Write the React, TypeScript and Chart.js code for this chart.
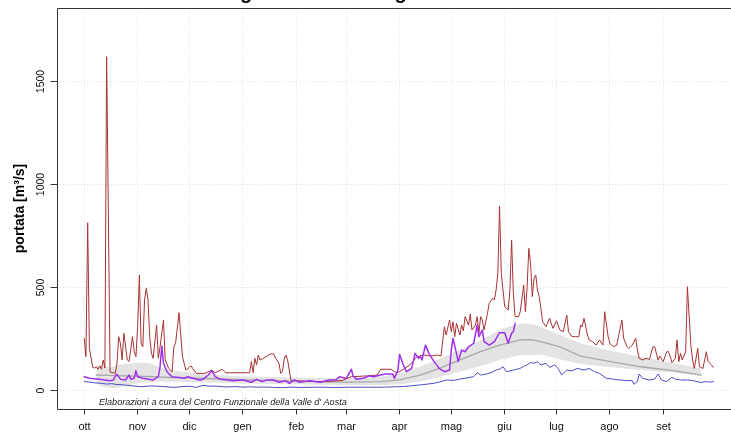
import React, { useEffect, useRef } from "react";
import { Chart, registerables } from "chart.js";

Chart.register(...registerables);

// ---- axis definitions ----
const monthLabels = ["ott", "nov", "dic", "gen", "feb", "mar", "apr", "mag", "giu", "lug", "ago", "set"];
const monthStartDays = [0, 31, 61, 92, 123, 152, 183, 213, 244, 274, 305, 336];
const yTicks = [0, 500, 1000, 1500];
const yTickLabels = ["0", "500", "1000", "1500"];

const titleText = "Andamento giornaliero \u2013 stagione 2023-2024";
const yAxisTitle = "portata [m\u00b3/s]";
const captionText = "Elaborazioni a cura del Centro Funzionale della Valle d' Aosta";

// ---- series: historical maximum (day of hydrological year, m3/s) ----
const maxDays = [0, 1, 2, 3, 4, 5, 6, 7, 8, 9, 10, 11, 12, 13, 15, 16, 18, 19, 20, 21, 22, 23, 25, 26, 28, 29, 30, 31, 32, 33, 34, 35, 36, 37, 38, 39, 40, 42, 43, 44, 46, 47, 49, 51, 52, 53, 55, 57, 59, 61, 62, 63, 65, 70, 74, 76, 80, 82, 96, 97, 98, 99, 100, 101, 102, 104, 106, 108, 110, 111, 113, 114, 115, 116, 117, 118, 120, 130, 140, 150, 155, 165, 170, 172, 178, 181, 183, 189, 193, 197, 201, 205, 207, 209, 210, 212, 213, 214, 215, 216, 218, 219, 220, 221, 223, 224, 225, 227, 228, 229, 230, 231, 232, 234, 235, 237, 238, 239, 240, 241, 242, 244, 246, 247, 248, 249, 250, 252, 253, 255, 256, 257, 258, 259, 260, 261, 262, 263, 264, 265, 266, 268, 270, 272, 274, 276, 278, 280, 281, 283, 285, 287, 288, 289, 290, 292, 293, 295, 297, 299, 301, 302, 304, 305, 307, 309, 310, 312, 313, 315, 316, 318, 320, 321, 322, 324, 326, 328, 330, 331, 333, 334, 336, 338, 339, 340, 341, 343, 344, 345, 346, 347, 349, 350, 352, 353, 354, 356, 357, 359, 361, 362, 364, 365];
const maxVals = [254, 165, 814, 205, 158, 112, 110, 115, 104, 120, 104, 149, 110, 1619, 90, 88, 84, 133, 262, 230, 149, 278, 149, 141, 262, 189, 165, 310, 560, 230, 213, 440, 496, 440, 262, 181, 157, 318, 157, 213, 343, 149, 108, 92, 213, 230, 378, 165, 100, 113, 120, 108, 84, 84, 100, 87, 104, 87, 87, 141, 87, 157, 125, 173, 149, 157, 168, 178, 178, 157, 133, 84, 92, 152, 173, 149, 50, 45, 44, 50, 68, 72, 76, 104, 104, 87, 92, 125, 165, 173, 168, 173, 168, 310, 270, 343, 286, 334, 262, 327, 270, 318, 290, 359, 318, 372, 294, 318, 359, 278, 359, 343, 294, 375, 424, 448, 440, 488, 569, 895, 569, 407, 391, 488, 730, 472, 359, 359, 383, 512, 383, 504, 690, 617, 456, 545, 561, 488, 456, 399, 334, 310, 351, 302, 339, 294, 286, 367, 286, 262, 262, 262, 318, 310, 351, 270, 246, 238, 221, 246, 221, 383, 262, 230, 213, 221, 262, 343, 254, 213, 205, 221, 254, 197, 157, 149, 157, 152, 213, 213, 149, 168, 141, 189, 189, 168, 136, 157, 246, 141, 181, 149, 189, 504, 221, 149, 108, 205, 116, 108, 189, 141, 125, 113];

// ---- series: historical minimum ----
const minDays = [0, 3, 6, 10, 13, 16, 19, 23, 26, 30, 33, 38, 42, 46, 52, 56, 61, 65, 69, 73, 77, 82, 88, 92, 96, 100, 105, 110, 115, 120, 125, 135, 145, 154, 165, 173, 181, 185, 190, 195, 199, 203, 206, 210, 214, 218, 222, 226, 228, 230, 233, 236, 239, 241, 243, 245, 247, 249, 251, 253, 255, 257, 259, 261, 263, 265, 268, 270, 273, 275, 277, 280, 283, 286, 290, 293, 296, 299, 303, 307, 311, 315, 318, 319, 321, 322, 324, 328, 331, 333, 335, 338, 341, 343, 346, 350, 353, 356, 358, 360, 363, 365];
const minVals = [44, 42, 38, 36, 32, 34, 30, 28, 25, 22, 19, 23, 22, 20, 16, 19, 22, 16, 26, 22, 22, 18, 20, 17, 19, 17, 18, 16, 15, 17, 16, 17, 16, 17, 17, 17, 19, 20, 24, 28, 32, 36, 42, 52, 50, 56, 62, 68, 87, 76, 80, 87, 100, 105, 116, 92, 96, 100, 104, 108, 118, 125, 136, 133, 141, 125, 133, 113, 125, 108, 76, 100, 96, 108, 100, 108, 92, 84, 60, 56, 52, 49, 49, 31, 44, 81, 60, 52, 56, 81, 52, 44, 65, 56, 52, 52, 49, 44, 39, 44, 42, 44];

// ---- series: median and band ----
const medDays = [7, 15, 23, 31, 40, 50, 61, 75, 92, 105, 122, 140, 152, 165, 172, 183, 195, 206, 218, 230, 241, 253, 259, 265, 276, 288, 303, 323, 342, 358];
const medVals = [76, 74, 72, 70, 68, 64, 62, 58, 53, 50, 46, 43, 42, 43, 44, 52, 76, 108, 149, 189, 221, 246, 248, 238, 213, 168, 145, 116, 97, 76];

const bandHighDays = [7, 11, 15, 19, 23, 28, 31, 38, 44, 50, 61, 69, 80, 92, 110, 130, 150, 165, 172, 183, 195, 206, 218, 230, 241, 248, 255, 260, 265, 276, 288, 303, 323, 342, 358];
const bandHighVals = [125, 120, 113, 125, 128, 133, 135, 133, 113, 100, 87, 81, 75, 70, 66, 62, 62, 64, 68, 84, 116, 155, 197, 245, 294, 315, 327, 322, 310, 270, 230, 197, 165, 133, 108];

const bandLowDays = [7, 9, 11, 14, 17, 20, 23, 31, 42, 61, 80, 92, 110, 130, 150, 172, 183, 195, 206, 218, 230, 241, 253, 259, 265, 276, 288, 303, 323, 342, 358];
const bandLowVals = [44, 25, 19, 14, 12, 16, 23, 36, 44, 42, 38, 35, 32, 30, 28, 28, 30, 44, 66, 92, 120, 149, 173, 172, 175, 153, 130, 116, 100, 87, 71];

// ---- series: current year ----
const curDays = [0, 3, 9, 15, 17, 18, 19, 21, 24, 26, 27, 29, 30, 31, 34, 40, 43, 44, 45, 46, 48, 51, 55, 58, 60, 63, 67, 69, 72, 74, 76, 79, 83, 86, 92, 97, 100, 103, 106, 110, 113, 117, 119, 122, 125, 131, 137, 142, 146, 148, 152, 154, 155, 156, 158, 162, 165, 168, 172, 175, 179, 180, 182, 183, 185, 187, 190, 192, 194, 195, 196, 198, 200, 203, 206, 209, 212, 213, 214, 216, 217, 219, 221, 223, 226, 228, 229, 231, 232, 235, 238, 241, 244, 246, 248, 249, 250];
const curVals = [68, 60, 56, 48, 52, 71, 79, 56, 52, 76, 56, 60, 97, 68, 60, 52, 68, 116, 217, 133, 92, 68, 64, 60, 68, 60, 52, 56, 76, 97, 68, 55, 52, 48, 52, 41, 55, 44, 52, 52, 41, 48, 36, 52, 41, 48, 41, 52, 52, 68, 60, 87, 104, 72, 55, 60, 72, 68, 76, 81, 81, 60, 100, 176, 128, 92, 108, 181, 157, 165, 149, 221, 181, 141, 108, 92, 100, 197, 254, 181, 141, 197, 189, 213, 230, 318, 262, 294, 238, 221, 238, 281, 281, 230, 278, 286, 327];

const pts = (xs: number[], ys: number[]) => xs.map((d, i) => ({ x: d, y: ys[i] }));

const FONT = '"Liberation Sans", Arial, Helvetica, sans-serif';

const decorPlugin = {
  id: "decor",
  beforeDatasetsDraw(chart: any) {
    const { ctx, chartArea: a, scales } = chart;
    const xs = scales.x;
    const ys = scales.y;
    ctx.save();
    ctx.strokeStyle = "#e3e3e3";
    ctx.lineWidth = 1;
    ctx.setLineDash([1, 2]);
    for (const d of monthStartDays) {
      const px = Math.floor(xs.getPixelForValue(d)) + 0.5;
      ctx.beginPath();
      ctx.moveTo(px, a.top);
      ctx.lineTo(px, a.bottom);
      ctx.stroke();
    }
    for (const v of yTicks) {
      const py = Math.floor(ys.getPixelForValue(v)) + 0.5;
      ctx.beginPath();
      ctx.moveTo(a.left, py);
      ctx.lineTo(a.right, py);
      ctx.stroke();
    }
    ctx.restore();
  },
  afterDatasetsDraw(chart: any) {
    const { ctx, chartArea: a, scales } = chart;
    const xs = scales.x;
    const ys = scales.y;
    ctx.save();
    ctx.setLineDash([]);
    ctx.strokeStyle = "#333333";
    ctx.lineWidth = 1;
    // box (left, top, bottom)
    const L = Math.floor(a.left) + 0.5;
    const T = Math.floor(a.top) + 0.5;
    const B = Math.floor(a.bottom) + 0.5;
    ctx.beginPath();
    ctx.moveTo(a.right + 2, T);
    ctx.lineTo(L, T);
    ctx.lineTo(L, B);
    ctx.lineTo(a.right + 2, B);
    ctx.stroke();

    // x ticks + labels
    ctx.fillStyle = "#111111";
    ctx.font = `11px ${FONT}`;
    ctx.textAlign = "center";
    ctx.textBaseline = "alphabetic";
    monthStartDays.forEach((d, i) => {
      const px = Math.floor(xs.getPixelForValue(d)) + 0.5;
      ctx.beginPath();
      ctx.moveTo(px, B);
      ctx.lineTo(px, B + 5);
      ctx.stroke();
      ctx.fillText(monthLabels[i], px, 430);
    });

    // y ticks + rotated labels
    ctx.font = `10.5px ${FONT}`;
    yTicks.forEach((v, i) => {
      const py = Math.floor(ys.getPixelForValue(v)) + 0.5;
      ctx.beginPath();
      ctx.moveTo(L - 7, py);
      ctx.lineTo(L, py);
      ctx.stroke();
      ctx.save();
      ctx.translate(44, py);
      ctx.rotate(-Math.PI / 2);
      ctx.textAlign = "center";
      ctx.fillText(yTickLabels[i], 0, 0);
      ctx.restore();
    });

    // y axis title
    ctx.save();
    ctx.font = `bold 14px ${FONT}`;
    ctx.translate(24, (a.top + a.bottom) / 2);
    ctx.rotate(-Math.PI / 2);
    ctx.textAlign = "center";
    ctx.fillStyle = "#000000";
    ctx.fillText(yAxisTitle, 0, 0);
    ctx.restore();

    // caption
    ctx.font = `italic 10px ${FONT}`;
    const cw = ctx.measureText(captionText).width;
    const fs = (10 * 248) / cw;
    ctx.font = `italic ${fs.toFixed(2)}px ${FONT}`;
    ctx.textAlign = "left";
    ctx.fillStyle = "#222222";
    ctx.fillText(captionText, 99, 405);

    // title (cut off at top of the picture)
    ctx.font = `bold 20px ${FONT}`;
    ctx.fillStyle = "#000000";
    const pre = ctx.measureText("Andamento ").width;
    ctx.fillText(titleText, 240 - pre, -1.5);
    ctx.restore();
  },
};

export default function App() {
  const ref = useRef<HTMLCanvasElement | null>(null);

  useEffect(() => {
    if (!ref.current) return;
    const lineBase = {
      pointRadius: 0,
      pointHoverRadius: 0,
      tension: 0,
      fill: false,
      borderJoinStyle: "round" as const,
      borderCapStyle: "round" as const,
    };
    const chart = new Chart(ref.current, {
      type: "line",
      data: {
        datasets: [
          { ...lineBase, label: "anno corrente", data: pts(curDays, curVals), borderColor: "#a030ee", borderWidth: 1.5, order: 1 },
          { ...lineBase, label: "massimo", data: pts(maxDays, maxVals), borderColor: "#a83232", borderWidth: 1, order: 2 },
          { ...lineBase, label: "minimo", data: pts(minDays, minVals), borderColor: "#4c4cc8", borderWidth: 1, order: 3 },
          { ...lineBase, label: "mediana", data: pts(medDays, medVals), borderColor: "#a8a8a8", borderWidth: 1.3, order: 4 },
          { ...lineBase, label: "banda sup", data: pts(bandHighDays, bandHighVals), borderWidth: 0, borderColor: "rgba(0,0,0,0)", backgroundColor: "#e3e3e3", fill: "+1", order: 5 },
          { ...lineBase, label: "banda inf", data: pts(bandLowDays, bandLowVals), borderWidth: 0, borderColor: "rgba(0,0,0,0)", backgroundColor: "#e3e3e3", order: 6 },
        ],
      },
      options: {
        responsive: false,
        animation: false,
        devicePixelRatio: 1,
        layout: { padding: { left: 57, top: 8, right: 0, bottom: 23 } },
        plugins: { legend: { display: false }, tooltip: { enabled: false }, title: { display: false } },
        scales: {
          x: { type: "linear", min: -15.8, max: 375.3, display: false },
          y: { type: "linear", min: -88.7, max: 1855, display: false },
        },
        events: [],
      },
      plugins: [decorPlugin],
    });
    return () => chart.destroy();
  }, []);

  return (
    <div style={{ position: "fixed", left: 0, top: 0, width: 731, height: 432, overflow: "hidden", background: "#ffffff" }}>
      <canvas ref={ref} width={731} height={432} style={{ width: 731, height: 432, display: "block" }} />
    </div>
  );
}
